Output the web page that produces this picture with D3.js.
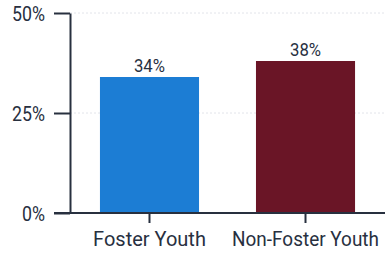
<!DOCTYPE html>
<html>
<head>
<meta charset="utf-8">
<script src="https://cdn.jsdelivr.net/npm/d3@7"></script>
<style>
  body { margin: 0; background: #fff; }
  text { font-family: Roboto, "Liberation Sans", sans-serif; fill: #28303f; }
</style>
</head>
<body>
<script>
// data
var groups = ["Foster Youth", "Non-Foster Youth"];
var rates = [34, 38];
var rateLabels = ["34%", "38%"];
var yTicks = [0, 25, 50];
var barColors = ["#1c7dd4", "#6a1526"];

var width = 385, height = 254;
var padLeft = 70, padRight = 385, padTop = 13, padBottom = 213;
var ink = "#28303f";

var svg = d3.select("body").append("svg")
    .attr("width", width)
    .attr("height", height);

var x = d3.scaleBand()
    .domain(groups)
    .range([padLeft, padRight])
    .paddingInner(0.365)
    .paddingOuter(0.192);

var y = d3.scaleLinear()
    .domain([0, 50])
    .range([padBottom, padTop]);

// faint gridlines
svg.append("g")
  .selectAll("line")
  .data(yTicks.filter(d => d > 0))
  .enter().append("line")
    .attr("x1", padLeft)
    .attr("x2", padRight)
    .attr("y1", d => y(d))
    .attr("y2", d => y(d))
    .attr("stroke", "#e2e4ea")
    .attr("stroke-dasharray", "2,2");

// bars
svg.append("g")
  .selectAll("rect")
  .data(rates)
  .enter().append("rect")
    .attr("x", (d, i) => x(groups[i]))
    .attr("y", d => y(d))
    .attr("width", x.bandwidth())
    .attr("height", d => padBottom - y(d))
    .attr("fill", (d, i) => barColors[i]);

// value labels
svg.append("g")
  .selectAll("text")
  .data(rates)
  .enter().append("text")
    .attr("x", (d, i) => x(groups[i]) + x.bandwidth() / 2)
    .attr("y", d => y(d) - 5)
    .attr("text-anchor", "middle")
    .attr("textLength", 31)
    .attr("lengthAdjust", "spacingAndGlyphs")
    .style("font-size", "18px")
    .text((d, i) => rateLabels[i]);

// y axis
var yAxis = d3.axisLeft(y)
    .tickValues(yTicks)
    .tickSize(16)
    .tickSizeOuter(0)
    .tickPadding(9)
    .tickFormat(d => d + "%");

var gy = svg.append("g")
    .attr("transform", "translate(" + padLeft + ",0)")
    .call(yAxis);
gy.select(".domain").attr("stroke", ink).attr("stroke-width", 2);
gy.selectAll(".tick line").attr("stroke", ink).attr("stroke-width", 2);
gy.selectAll(".tick text")
    .attr("fill", ink)
    .attr("dy", "0.36em")
    .attr("textLength", d => d === 0 ? 23 : 33)
    .attr("lengthAdjust", "spacingAndGlyphs")
    .style("font-size", "21px");

// x axis
var xAxis = d3.axisBottom(x)
    .tickSize(10)
    .tickSizeOuter(0)
    .tickPadding(8);

var gx = svg.append("g")
    .attr("transform", "translate(0," + padBottom + ")")
    .call(xAxis);
gx.select(".domain").remove();
gx.append("line")
    .attr("x1", padLeft - 16)
    .attr("x2", padRight)
    .attr("stroke", ink)
    .attr("stroke-width", 2);
gx.selectAll(".tick line").attr("stroke", ink).attr("stroke-width", 2);
// condensed look: squeeze each label horizontally around its tick
gx.selectAll(".tick text")
    .attr("fill", ink)
    .style("font-size", "21px")
    .attr("transform", function() {
      var w = this.getComputedTextLength();
      var target = this.textContent === groups[0] ? 113 : 147;
      return "scale(" + Math.min(1, target / w) + ",1)";
    });
</script>
</body>
</html>
